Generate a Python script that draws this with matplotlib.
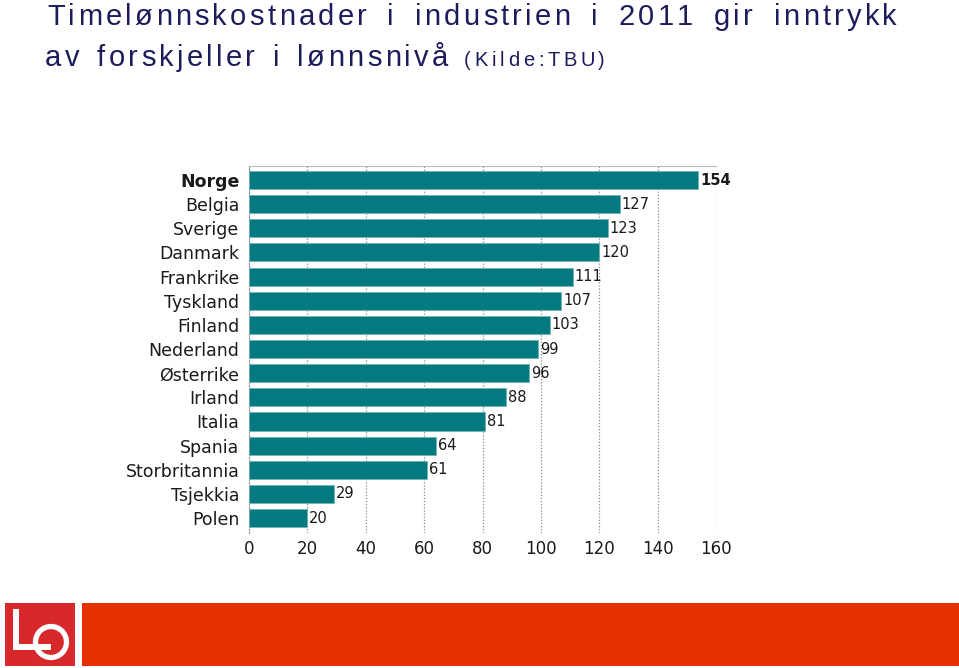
import numpy as np
import matplotlib.pyplot as plt
from matplotlib.patches import Rectangle, Circle
from matplotlib.font_manager import FontProperties

countries = ["Norge", "Belgia", "Sverige", "Danmark", "Frankrike", "Tyskland",
             "Finland", "Nederland", "Østerrike", "Irland", "Italia", "Spania",
             "Storbritannia", "Tsjekkia", "Polen"]
values = [154, 127, 123, 120, 111, 107, 103, 99, 96, 88, 81, 64, 61, 29, 20]
xticks = [0, 20, 40, 60, 80, 100, 120, 140, 160]

title1 = "Timelønnskostnader i industrien i 2011 gir inntrykk"
title2 = "av forskjeller i lønnsnivå"
source = "(Kilde:TBU)"

W, H = 959, 668
fig = plt.figure(figsize=(W / 100, H / 100), dpi=100)
renderer = fig.canvas.get_renderer()

# background layer in pixel coords for title and footer
bg = fig.add_axes([0, 0, 1, 1])
bg.set_xlim(0, W)
bg.set_ylim(H, 0)
bg.axis("off")

navy = "#1c1c5c"


def spaced_text(x0, x1, y, s, size, track=None):
    # powerpoint-style letter spacing; word gaps (or tracking) stretched so the
    # line spans x0..x1
    prop = FontProperties(family="Liberation Sans", size=size)
    widths = [renderer.get_text_width_height_descent(ch, prop, ismath=False)[0]
              if ch != " " else 0 for ch in s]
    nsp = s.count(" ")
    if track is None:
        track = ((x1 - x0) - sum(widths)) / (len(s) - 1)
    free = (x1 - x0) - sum(widths) - track * (len(s) - 1)
    gap = free / nsp if nsp else 0
    x = x0
    for ch, w in zip(s, widths):
        if ch == " ":
            x += gap + track
            continue
        bg.text(x, y, ch, fontproperties=prop, color=navy, va="baseline", ha="left")
        x += w + track


spaced_text(47, 897, 25, title1, 21, 3.3)
spaced_text(45, 448, 66, title2, 21, 3.3)
spaced_text(464, 605, 66, source, 14.5)

# footer: logo + red band
bg.add_patch(Rectangle((5, 603), 70, 63, color="#d7282b", lw=0))
bg.add_patch(Rectangle((82, 603), W - 82, 63, color="#e63000", lw=0))
bg.add_patch(Circle((51, 642), 15.5, fill=False, ec="white", lw=3.8))
bg.add_patch(Rectangle((13, 609), 6, 41, color="white", lw=0))
bg.add_patch(Rectangle((13, 644), 38, 6, color="white", lw=0))

# chart
ax = fig.add_axes([249 / W, 1 - 533 / H, (716 - 249) / W, (533 - 166) / H])
y = np.arange(len(countries))
ax.barh(y, values, height=0.75, color="#047a80", edgecolor="#6fb5b8",
        linewidth=0.6, zorder=3)
ax.set_xlim(0, 160)
ax.set_ylim(len(countries) - 0.38, -0.58)
ax.set_xticks(xticks)
ax.set_yticks(y)
ax.set_yticklabels(countries, fontsize=12.5, color="#1a1a1a")
ax.get_yticklabels()[0].set_fontweight("bold")
ax.tick_params(axis="x", length=0, pad=5, labelsize=12, labelcolor="#1a1a1a")
ax.tick_params(axis="y", length=0, pad=7)
ax.grid(axis="x", linestyle=(0, (1, 1.5)), color="#888888", linewidth=0.9, zorder=0)
for s in ["right", "bottom"]:
    ax.spines[s].set_visible(False)
ax.spines["top"].set_color("#bbbbbb")
ax.spines["top"].set_linewidth(0.8)
ax.spines["left"].set_color("#999999")
ax.spines["left"].set_linestyle((0, (1, 1.5)))

for i, v in enumerate(values):
    ax.text(v + 0.6, i, str(v), va="center", ha="left", fontsize=10.5,
            color="#1a1a1a", fontweight="bold" if i == 0 else "normal")

fig.savefig("out.png", dpi=100)
